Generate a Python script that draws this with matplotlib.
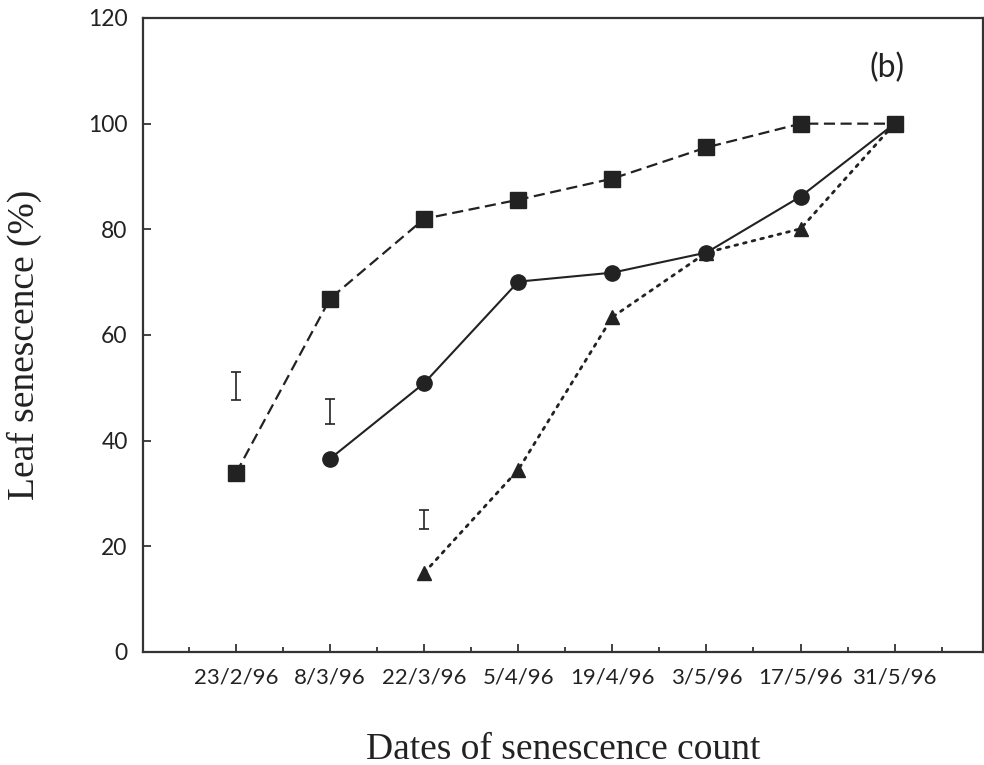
import numpy as np
import matplotlib
matplotlib.use("Agg")
import matplotlib.pyplot as plt
from matplotlib.ticker import MultipleLocator

# data
dates = ["23/2/96", "8/3/96", "22/3/96", "5/4/96", "19/4/96", "3/5/96", "17/5/96", "31/5/96"]
squares = [33.9, 66.9, 82.0, 85.6, 89.6, 95.5, 100.0, 100.0]
circles = [36.6, 50.9, 70.1, 71.8, 75.6, 86.2, 100.0]
triangles = [15.0, 34.5, 63.4, 75.6, 80.1, 100.0]

# free-standing error bars (LSD-like), one per start date
err_pos = [0, 1, 2]
err_mid = [50.4, 45.5, 25.1]
err_half = [2.65, 2.4, 1.8]

ink = "#222222"
tick_font = "Lato"
label_font = ["Liberation Serif", "DejaVu Serif"]

x = np.arange(len(dates))

fig = plt.figure(figsize=(9.84, 7.65), dpi=100)
ax = fig.add_axes([143 / 984, 113 / 765, 840 / 984, 634 / 765])

ax.plot(x, squares, linestyle=(0, (5, 2.5)), color=ink, linewidth=1.6,
        marker="s", markersize=11, markerfacecolor=ink, markeredgecolor=ink)
ax.plot(x[1:], circles, linestyle="-", color=ink, linewidth=1.5,
        marker="o", markersize=11, markerfacecolor=ink, markeredgecolor=ink)
ax.plot(x[2:], triangles, linestyle=(0, (1, 2.2)), color=ink, linewidth=2.0,
        dash_capstyle="round",
        marker="^", markersize=10.5, markerfacecolor=ink, markeredgecolor=ink)

ax.errorbar(err_pos, err_mid, yerr=err_half, fmt="none", ecolor=ink,
            elinewidth=1.2, capsize=3.6, capthick=1.2)

ax.set_xlim(-0.99, 7.94)
ax.set_ylim(0, 120)

ax.set_xticks(x)
ax.set_xticklabels(dates)
ax.xaxis.set_minor_locator(MultipleLocator(1, offset=0.5))
ax.yaxis.set_major_locator(MultipleLocator(20))

ax.tick_params(axis="x", which="major", direction="in", length=6, width=1.2,
               color=ink, pad=11, labelsize=16, labelcolor=ink)
ax.tick_params(axis="x", which="minor", direction="in", length=3.5, width=1.2,
               color=ink)
ax.tick_params(axis="y", which="major", direction="in", length=6, width=1.2,
               color=ink, pad=11, labelsize=16.5, labelcolor=ink)
for lab in ax.get_xticklabels() + ax.get_yticklabels():
    lab.set_fontfamily(tick_font)

for side in ["left", "bottom", "top", "right"]:
    ax.spines[side].set_color("#333333")
    ax.spines[side].set_linewidth(1.6)

ax.text(6.92, 110.5, "(b)", fontsize=23, fontfamily=tick_font, color=ink,
        ha="center", va="center")

fig.text(563 / 984, 0.008, "Dates of senescence count", fontsize=27,
         fontfamily=label_font, color=ink, ha="center", va="baseline")
fig.text(0.0245, 0.549, "Leaf senescence (%)", fontsize=27, rotation=90,
         fontfamily=label_font, color=ink, ha="center", va="center")

fig.savefig("out.png", dpi=100, facecolor="white")
